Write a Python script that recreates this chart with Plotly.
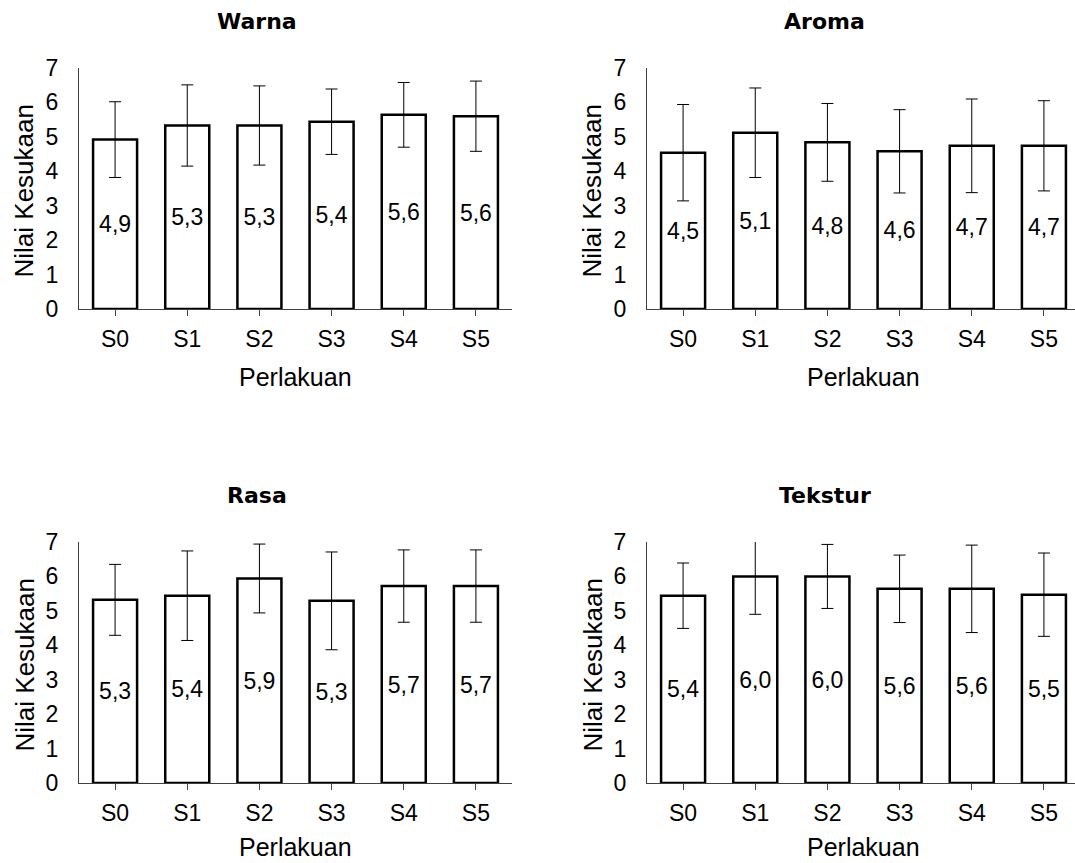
import plotly.graph_objects as go

categories = ["S0", "S1", "S2", "S3", "S4", "S5"]

warna_mean = [4.92, 5.33, 5.33, 5.44, 5.64, 5.60]
warna_sd = [1.10, 1.18, 1.15, 0.95, 0.94, 1.02]

aroma_mean = [4.54, 5.12, 4.84, 4.58, 4.74, 4.74]
aroma_sd = [1.40, 1.30, 1.13, 1.21, 1.36, 1.31]

rasa_mean = [5.32, 5.44, 5.94, 5.29, 5.72, 5.72]
rasa_sd = [1.03, 1.30, 1.00, 1.42, 1.05, 1.05]

tekstur_mean = [5.44, 6.00, 6.00, 5.64, 5.64, 5.47]
tekstur_sd = [0.95, 1.10, 0.93, 0.98, 1.27, 1.21]

panel_titles = ["Warna", "Aroma", "Rasa", "Tekstur"]
y_ticks = [0, 1, 2, 3, 4, 5, 6, 7]
x_title = "Perlakuan"
y_title = "Nilai Kesukaan"

W, H = 1075, 863
FONT = "Liberation Sans, Arial, sans-serif"


def px_x(p):
    return p / W


def px_y(p):
    return 1 - p / H


panels = [
    (warna_mean, warna_sd, panel_titles[0], 79, 512, 68, 309, 5.5, 84),
    (aroma_mean, aroma_sd, panel_titles[1], 647, 1075, 68, 309, 5.5 - 5 / 72.2, 84),
    (rasa_mean, rasa_sd, panel_titles[2], 79, 512, 542, 783, 5.5, 80),
    (tekstur_mean, tekstur_sd, panel_titles[3], 647, 1075, 542, 783, 5.5 - 5 / 72.2, 80),
]

fig = go.Figure()
annotations = []
cat_w = 72.2

for i, (mean, sd, title, x0, x1, yt, yb, xmax, xt_off) in enumerate(panels):
    n = "" if i == 0 else str(i + 1)
    labels = [f"{v:.1f}".replace(".", ",") for v in mean]
    fig.add_trace(go.Bar(
        x=list(range(len(categories))), y=mean,
        xaxis="x" + n, yaxis="y" + n,
        width=0.61,
        marker=dict(color="white", line=dict(color="black", width=2.5)),
        error_y=dict(type="data", array=sd, visible=True, color="black",
                     thickness=1, width=6),
        text=labels, textposition="inside", insidetextanchor="middle",
        textangle=0, constraintext="none",
        textfont=dict(family=FONT, size=23, color="black"),
        showlegend=False, hoverinfo="skip",
    ))
    fig.layout["xaxis" + n] = dict(
        domain=[px_x(x0), px_x(x1)], range=[-0.5, xmax],
        anchor="y" + n, tickmode="array", automargin=False,
        tickvals=list(range(len(categories))), ticktext=categories,
        tickson="boundaries", ticks="outside", ticklen=6, tickwidth=1,
        tickcolor="#404040", showline=True, linecolor="#404040", linewidth=1,
        showgrid=False, zeroline=False, fixedrange=True,
        tickfont=dict(family=FONT, size=23, color="black"),
        ticklabelstandoff=3,
    )
    fig.layout["yaxis" + n] = dict(
        domain=[px_y(yb), px_y(yt)], range=[0, 7],
        anchor="x" + n, tickmode="array", tickvals=y_ticks, automargin=False,
        ticks="", showline=True, linecolor="#404040", linewidth=1,
        showgrid=False, zeroline=False, fixedrange=True,
        tickfont=dict(family=FONT, size=23, color="black"),
        ticklabelstandoff=15,
    )
    cx = (x0 + x0 + 6 * cat_w) / 2
    annotations.append(dict(
        text="<b>" + title + "</b>", xref="paper", yref="paper",
        x=px_x(x0 - 39 + 3 * cat_w), y=px_y(yt - 47),
        xanchor="center", yanchor="middle", showarrow=False,
        font=dict(family="DejaVu Sans, sans-serif", size=22, color="black"),
    ))
    annotations.append(dict(
        text=x_title, xref="paper", yref="paper",
        x=px_x(cx), y=px_y(yb + xt_off),
        xanchor="center", yanchor="bottom", showarrow=False,
        font=dict(family=FONT, size=25, color="black"),
    ))
    annotations.append(dict(
        text=y_title, xref="paper", yref="paper",
        x=px_x(x0 - 55), y=px_y((yt + yb) / 2 + 3),
        xanchor="center", yanchor="middle", showarrow=False, textangle=-90,
        font=dict(family=FONT, size=26, color="black"),
    ))

fig.update_layout(
    width=W, height=H,
    margin=dict(l=0, r=0, t=0, b=0, pad=0, autoexpand=False),
    paper_bgcolor="white", plot_bgcolor="white",
    annotations=annotations,
    bargap=0.39,
)

fig.write_html(
    "out.html",
    config={"displayModeBar": False},
    post_script="document.body.style.margin='0px';document.body.style.overflow='hidden';",
)
